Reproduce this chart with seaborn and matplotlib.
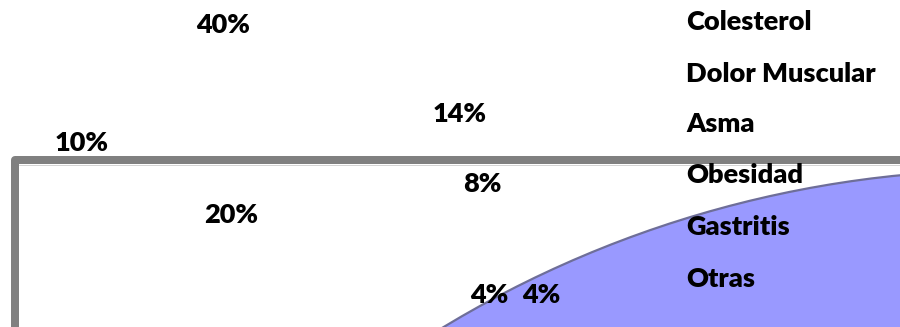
import matplotlib
matplotlib.use("Agg")
import matplotlib.pyplot as plt
from matplotlib.patches import Wedge
import seaborn as sns

# ---- data ----
categories = ["Colesterol", "Dolor Muscular", "Asma", "Obesidad", "Gastritis", "Otras"]
percent_values = [40, 10, 20, 14, 8, 4, 4]

# ---- layout (pixel coordinates of the label anchors) ----
pct_x = [223, 82, 231, 460, 482, 489, 541]
pct_y = [33, 151, 223, 122, 192, 303, 303]
legend_x = 686
legend_y = [30, 82, 132, 183, 235, 287]

sns.set_theme(style="white")
plt.rcParams["font.family"] = ["Lato", "DejaVu Sans"]

fig = plt.figure(figsize=(9, 3.27), dpi=100)
ax = fig.add_axes([0, 0, 1, 1])
ax.set_xlim(0, 900)
ax.set_ylim(327, 0)
ax.set_aspect("auto")
ax.axis("off")

# visible portion of the (very large) pie
blue = "#9999FF"
ax.add_patch(Wedge((1007, 1259), 1089, 200, 340, facecolor=blue,
                   edgecolor="#6E6E99", linewidth=1.6, zorder=1))

# plot-area frame
ax.plot([15, 15, 905], [335, 160, 160], color="#808080", lw=8 * 0.72,
        solid_joinstyle="round", solid_capstyle="butt", zorder=3)
ax.plot([19, 905], [165, 165], color="#D4D4D4", lw=1 * 0.72, zorder=2)

fs = 19.5
for v, x, y in zip(percent_values, pct_x, pct_y):
    ax.text(x, y, f"{v}%", ha="center", va="baseline", fontsize=fs,
            fontweight="heavy", color="black", zorder=4)

for lab, y in zip(categories, legend_y):
    ax.text(legend_x, y, lab, ha="left", va="baseline", fontsize=fs,
            fontweight="heavy", color="black", zorder=4)

fig.savefig("out.png", dpi=100)
